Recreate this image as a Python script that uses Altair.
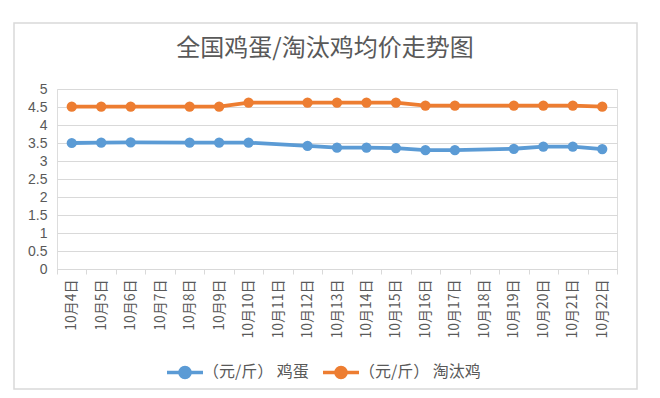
import altair as alt
import pandas as pd

# categories
dates = ["10月4日", "10月5日", "10月6日", "10月7日", "10月8日", "10月9日", "10月10日",
         "10月11日", "10月12日", "10月13日", "10月14日", "10月15日", "10月16日",
         "10月17日", "10月18日", "10月19日", "10月20日", "10月21日", "10月22日"]

# series (dates without a value are simply absent)
egg_dates = ["10月4日", "10月5日", "10月6日", "10月8日", "10月9日", "10月10日",
             "10月12日", "10月13日", "10月14日", "10月15日", "10月16日", "10月17日",
             "10月19日", "10月20日", "10月21日", "10月22日"]
egg_values = [3.50, 3.51, 3.52, 3.51, 3.51, 3.51,
              3.42, 3.37, 3.37, 3.36, 3.30, 3.30,
              3.34, 3.40, 3.40, 3.33]

hen_dates = egg_dates
hen_values = [4.51, 4.51, 4.51, 4.51, 4.51, 4.62,
              4.62, 4.62, 4.62, 4.62, 4.54, 4.54,
              4.54, 4.54, 4.54, 4.51]

series_names = ["（元/斤） 鸡蛋", "（元/斤） 淘汰鸡"]
series_colors = ["#5b9bd5", "#ed7d31"]
y_ticks = [0, 0.5, 1, 1.5, 2, 2.5, 3, 3.5, 4, 4.5, 5]
title_text = "全国鸡蛋/淘汰鸡均价走势图"

FONT = "Noto Sans CJK SC"
NUMFONT = "Liberation Sans"
TXT = "#595959"
GRID = "#d9d9d9"

df = pd.concat([
    pd.DataFrame({"date": egg_dates, "value": egg_values, "series": series_names[0]}),
    pd.DataFrame({"date": hen_dates, "value": hen_values, "series": series_names[1]}),
], ignore_index=True)

x_enc = alt.X("date:N", sort=dates,
              scale=alt.Scale(type="band", domain=dates, paddingInner=0, paddingOuter=0),
              axis=alt.Axis(title=None, labelAngle=-90, labelFont=FONT, labelFontSize=14,
                            labelColor=TXT, domainColor=GRID, tickColor=GRID, tickSize=5,
                            tickBand="extent", labelPadding=5, grid=False))
y_enc = alt.Y("value:Q",
              scale=alt.Scale(domain=[0, 5], nice=False, zero=True),
              axis=alt.Axis(title=None, values=y_ticks, format="~g", labelFont=NUMFONT,
                            labelFontSize=14, labelColor=TXT, gridColor=GRID, grid=True,
                            domain=False, ticks=False, labelPadding=10))
color_enc = alt.Color("series:N", sort=series_names,
                      scale=alt.Scale(domain=series_names, range=series_colors),
                      legend=alt.Legend(title=None, orient="none", direction="horizontal",
                                        legendX=115, legendY=270,
                                        symbolType="M-1.6,0H1.6M0.45,0A0.45,0.45 0 1,1 -0.45,0A0.45,0.45 0 1,1 0.45,0Z",
                                        symbolSize=506, symbolStrokeWidth=3.5,
                                        labelFont=FONT, labelFontSize=16, labelColor=TXT,
                                        labelOffset=5, columnPadding=7))

base = alt.Chart(df).encode(x=x_enc, y=y_enc, color=color_enc)
lines = base.mark_line(strokeWidth=3.8)
points = base.mark_point(filled=True, size=105, opacity=1)

frame = alt.Chart(pd.DataFrame({"k": [0]})).mark_rect(
    fill=None, stroke="#d9d9d9", strokeWidth=1.5
).encode(x=alt.value(-43), x2=alt.value(580), y=alt.value(-66), y2=alt.value(300))

chart = alt.layer(frame, lines, points).properties(
    width=560, height=180,
    title=alt.TitleParams(title_text, font=FONT, fontSize=24, fontWeight="normal",
                          color=TXT, anchor="middle", frame="group", offset=-39, dx=-12),
    autosize=alt.AutoSizeParams(type="none"),
    padding={"left": 49, "top": 81, "right": 35, "bottom": 121},
).configure_view(stroke=None).configure(background="white")

chart.save("out.html", embed_options={"renderer": "svg", "actions": False})
